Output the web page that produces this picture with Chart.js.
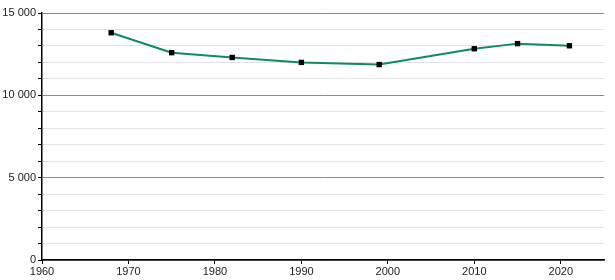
<!DOCTYPE html>
<html>
<head>
<meta charset="utf-8">
<script src="https://cdn.jsdelivr.net/npm/chart.js@4/dist/chart.umd.min.js"></script>
<style>
  html, body { margin: 0; padding: 0; background: #fff; }
  #wrap { width: 615px; height: 280px; }
</style>
</head>
<body>
<div id="wrap"><canvas id="c"></canvas></div>
<script>
// Datos
const years  = [1968, 1975, 1982, 1990, 1999, 2010, 2015, 2021];
const values = [13800, 12590, 12300, 12000, 11870, 12830, 13140, 13010];

const X_MIN = 1960, X_MAX = 2025;
const Y_MIN = 0, Y_MAX = 15000;

const fmt = v => String(v).replace(/\B(?=(\d{3})+(?!\d))/g, ' ');
const FONT = { family: "'Liberation Sans', Arial, sans-serif", size: 11 };

new Chart(document.getElementById('c'), {
  type: 'line',
  data: {
    datasets: [{
      data: years.map((y, i) => ({ x: y, y: values[i] })),
      borderColor: '#0e8a68',
      borderWidth: 2,
      tension: 0,
      pointStyle: 'rect',
      pointRadius: 3.8,
      pointBackgroundColor: '#000',
      pointBorderColor: '#000',
      pointBorderWidth: 0
    }]
  },
  options: {
    responsive: true,
    maintainAspectRatio: false,
    animation: false,
    layout: { padding: { top: 13, right: 11, left: 0, bottom: 0 } },
    plugins: { legend: { display: false }, tooltip: { enabled: false } },
    scales: {
      x: {
        type: 'linear',
        min: X_MIN,
        max: X_MAX,
        afterFit: s => { s.height = 20; },
        border: { color: '#000', width: 1.5 },
        grid: { drawOnChartArea: false, tickColor: '#000', tickLength: 4 },
        ticks: {
          stepSize: 10,
          includeBounds: false,
          maxRotation: 0,
          padding: 1,
          color: '#222',
          font: FONT,
          callback: v => String(v)
        }
      },
      y: {
        min: Y_MIN,
        max: Y_MAX,
        afterFit: s => { s.width = 42; },
        border: { color: '#000', width: 1.5 },
        grid: {
          color: ctx => (ctx.tick && ctx.tick.value % 5000 === 0) ? '#8a8a8a' : '#e2e2e2',
          tickColor: '#000',
          tickLength: 4
        },
        ticks: {
          stepSize: 1000,
          autoSkip: false,
          padding: 2,
          color: '#222',
          font: FONT,
          callback: v => v % 5000 === 0 ? fmt(v) : ''
        }
      }
    }
  }
});
</script>
</body>
</html>
